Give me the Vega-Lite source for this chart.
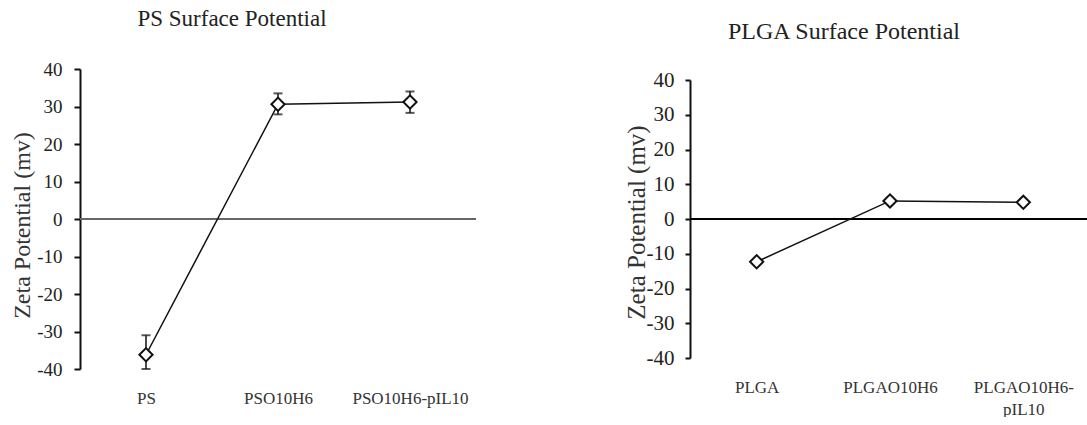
{
  "$schema": "https://vega.github.io/schema/vega-lite/v6.json",
  "background": "white",
  "padding": {"left": 10, "top": 8, "right": 0, "bottom": 0},
  "config": {"view": {"stroke": null}, "font": "Liberation Serif", "title": {"font": "Liberation Serif"}, "axis": {"labelFont": "Liberation Serif", "titleFont": "Liberation Serif", "labelOverlap": false}},
  "datasets": {
    "ps": [
      {"sample": "PS", "zeta": -36.2, "lo": -40, "hi": -31},
      {"sample": "PSO10H6", "zeta": 30.6, "lo": 27.9, "hi": 33.5},
      {"sample": "PSO10H6-pIL10", "zeta": 31.2, "lo": 28.3, "hi": 34.0}
    ],
    "plga": [
      {"sample": "PLGA", "zeta": -12.3},
      {"sample": "PLGAO10H6", "zeta": 5.2},
      {"sample": "PLGAO10H6-pIL10", "zeta": 4.8}
    ]
  },
  "bounds": "flush",
  "center": true,
  "spacing": 214,
  "hconcat": [
    {
      "width": 396,
      "height": 300,
      "title": {"text": "PS Surface Potential", "font": "Liberation Serif", "fontSize": 23, "fontWeight": "normal", "color": "#222", "anchor": "middle", "frame": "group", "dx": -46, "offset": 29},
      "data": {"name": "ps"},
      "encoding": {
        "x": {"field": "sample", "type": "nominal", "sort": null, "scale": {"type": "point", "padding": 0.5},
          "axis": {"domain": false, "ticks": false, "tickSize": 0, "labelPadding": 21, "labelFont": "Liberation Serif", "labelFontSize": 17, "labelColor": "#333", "labelAngle": 0, "title": null}},
        "y": {"field": "zeta", "type": "quantitative", "title": "Zeta Potential (mv)", "scale": {"domain": [-40, 40], "nice": false},
          "axis": {"values": [-40, -30, -20, -10, 0, 10, 20, 30, 40], "tickCount": 9, "labelExpr": "'' + datum.value", "labelOverlap": false, "grid": false, "tickSize": 6, "tickWidth": 2, "tickColor": "#111", "domainWidth": 2, "domainColor": "#111", "labelFont": "Liberation Serif", "labelFontSize": 19, "labelColor": "#222", "labelPadding": 12, "titleFont": "Liberation Serif", "titleFontSize": 24, "titleFontWeight": "normal", "titleColor": "#333", "titleX": -58, "titleY": 156, "titleBaseline": "middle", "titleAlign": "center", "titleAngle": -90}}
      },
      "layer": [
        {
          "data": {"values": [{"zero": 0}]},
          "mark": {"type": "rule", "color": "#666", "strokeWidth": 2},
          "encoding": {"x": null, "y": {"field": "zero", "type": "quantitative"}}
        },
        {
          "mark": {"type": "line", "color": "#111", "strokeWidth": 1.5}
        },
        {
          "mark": {"type": "rule", "color": "#111", "strokeWidth": 1.5},
          "encoding": {"y": {"field": "lo", "type": "quantitative"}, "y2": {"field": "hi"}}
        },
        {
          "mark": {"type": "tick", "color": "#111", "size": 9, "thickness": 2},
          "encoding": {"y": {"field": "hi", "type": "quantitative"}}
        },
        {
          "mark": {"type": "tick", "color": "#111", "size": 9, "thickness": 2},
          "encoding": {"y": {"field": "lo", "type": "quantitative"}}
        },
        {
          "mark": {"type": "point", "shape": "diamond", "filled": false, "fill": "white", "fillOpacity": 1, "stroke": "#111", "strokeWidth": 2, "size": 175, "opacity": 1}
        }
      ]
    },
    {
      "width": 400,
      "height": 278,
      "title": {"text": "PLGA Surface Potential", "font": "Liberation Serif", "fontSize": 24, "fontWeight": "normal", "color": "#222", "anchor": "middle", "frame": "group", "dx": -46, "offset": 25},
      "data": {"name": "plga"},
      "encoding": {
        "x": {"field": "sample", "type": "nominal", "sort": null, "scale": {"type": "point", "padding": 0.5},
          "axis": {"domain": false, "ticks": false, "tickSize": 0, "labelPadding": 21, "labelFont": "Liberation Serif", "labelFontSize": 17, "labelColor": "#333", "labelAngle": 0, "title": null, "labelLineHeight": 22,
            "labelExpr": "datum.value == 'PLGAO10H6-pIL10' ? ['PLGAO10H6-', 'pIL10'] : datum.value"}},
        "y": {"field": "zeta", "type": "quantitative", "title": "Zeta Potential (mv)", "scale": {"domain": [-40, 40], "nice": false},
          "axis": {"values": [-40, -30, -20, -10, 0, 10, 20, 30, 40], "tickCount": 9, "labelExpr": "'' + datum.value", "labelOverlap": false, "grid": false, "tickSize": 5, "tickWidth": 2, "tickColor": "#111", "domainWidth": 2, "domainColor": "#111", "labelFont": "Liberation Serif", "labelFontSize": 21, "labelColor": "#222", "labelPadding": 11, "titleFont": "Liberation Serif", "titleFontSize": 25, "titleFontWeight": "normal", "titleColor": "#333", "titleX": -54, "titleY": 142, "titleBaseline": "middle", "titleAlign": "center", "titleAngle": -90}}
      },
      "layer": [
        {
          "data": {"values": [{"zero": 0}]},
          "mark": {"type": "rule", "color": "#000", "strokeWidth": 2},
          "encoding": {"x": null, "y": {"field": "zero", "type": "quantitative"}}
        },
        {
          "mark": {"type": "line", "color": "#111", "strokeWidth": 1.5}
        },
        {
          "mark": {"type": "point", "shape": "diamond", "filled": false, "fill": "white", "fillOpacity": 1, "stroke": "#111", "strokeWidth": 2, "size": 175, "opacity": 1}
        }
      ]
    }
  ]
}
